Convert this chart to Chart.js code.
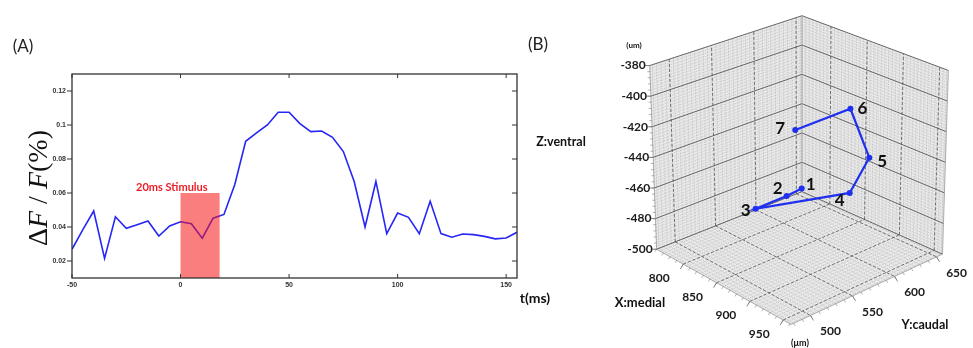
<!DOCTYPE html>
<html>
<head>
<meta charset="utf-8">
<script src="https://cdn.jsdelivr.net/npm/chart.js@4.4.1/dist/chart.umd.min.js"></script>
<style>
  body { margin: 0; background: #fff; }
  #wrap { position: relative; width: 973px; height: 348px; overflow: hidden; }
  canvas { position: absolute; top: 0; }
  .lbl { position: absolute; transform: translate(-50%, -50%); white-space: nowrap; line-height: 1; font-family: Lato, "Open Sans", sans-serif; color: #111; }
</style>
</head>
<body>
<div id="wrap">
  <canvas id="chartA" width="560" height="348" style="left:0"></canvas>
  <canvas id="chartB" width="453" height="348" style="left:520px"></canvas>

  <div class="lbl" style="left:23px;top:45px;font-size:17px;color:#222">(A)</div>
  <div class="lbl" style="left:538px;top:43px;font-size:17px;color:#222">(B)</div>
  <div class="lbl" style="left:38px;top:188px;transform:translate(-50%,-50%) rotate(-90deg);font-family:'Liberation Serif',serif;font-size:28px;color:#111">&Delta;<i>F</i> / <i>F</i>(%)</div>
  <div class="lbl" style="left:535px;top:298px;font-size:14px;font-weight:bold">t(ms)</div>
  <div class="lbl" style="left:561px;top:142px;font-size:12.5px;font-weight:bold">Z:ventral</div>
  <div class="lbl" style="left:640px;top:302px;font-size:13px;font-weight:bold">X:medial</div>
  <div class="lbl" style="left:925px;top:325px;font-size:12.5px;font-weight:bold">Y:caudal</div>
  <div class="lbl" style="left:634px;top:45px;font-size:8px;font-weight:bold">(um)</div>
  <div class="lbl" style="left:800px;top:342px;font-size:9px;font-weight:bold">(&mu;m)</div>
</div>
<script>
// ---------- panel A : calcium trace ----------
var times = [-50, -45, -40, -35, -30, -25, -20, -15, -10, -5, 0, 5, 10, 15, 20, 25, 30, 35, 40, 45,
             50, 55, 60, 65, 70, 75, 80, 85, 90, 95, 100, 105, 110, 115, 120, 125, 130, 135, 140, 145, 150, 155];
var dff = [0.0269, 0.0385, 0.0494, 0.0215, 0.0460, 0.0392, 0.0413, 0.0435, 0.0347, 0.0406,
           0.0431, 0.0419, 0.0334, 0.0452, 0.0474, 0.0650, 0.0904, 0.0953, 0.1000, 0.1075,
           0.1075, 0.1008, 0.0961, 0.0965, 0.0928, 0.0844, 0.0668, 0.0400, 0.0668, 0.0361,
           0.0482, 0.0457, 0.0361, 0.0551, 0.0361, 0.0340, 0.0359, 0.0355, 0.0345, 0.0330,
           0.0335, 0.0369];
var xTicksA = [-50, 0, 50, 100, 150];
var yTicksA = [0.02, 0.04, 0.06, 0.08, 0.1, 0.12];
var stimStart = 0, stimEnd = 18, stimTop = 0.06;
var stimText = '20ms Stimulus';

var tickFont = { family: 'Liberation Sans', size: 7, weight: 'bold' };

var panelAPlugin = {
    id: 'panelA',
    afterDatasetsDraw: function (chart) {
        var ctx = chart.ctx, x = chart.scales.x, y = chart.scales.y;
        // stimulus window, drawn over the trace
        ctx.save();
        ctx.fillStyle = 'rgba(245, 20, 20, 0.55)';
        var l = x.getPixelForValue(stimStart), r = x.getPixelForValue(stimEnd);
        var t = y.getPixelForValue(stimTop), b = y.getPixelForValue(y.min);
        ctx.fillRect(l, t, r - l, b - t);
        ctx.fillStyle = '#ee1c25';
        ctx.font = 'bold 11px Lato, sans-serif';
        ctx.textAlign = 'center';
        ctx.textBaseline = 'middle';
        ctx.fillText(stimText, x.getPixelForValue(-4), y.getPixelForValue(0.0635));
        ctx.restore();
    },
    afterDraw: function (chart) {
        var ctx = chart.ctx, a = chart.chartArea, x = chart.scales.x, y = chart.scales.y;
        ctx.save();
        ctx.strokeStyle = '#333';
        ctx.lineWidth = 1.3;
        ctx.strokeRect(a.left, a.top, a.right - a.left, a.bottom - a.top);
        ctx.lineWidth = 1;
        ctx.beginPath();
        xTicksA.forEach(function (v) {
            var px = x.getPixelForValue(v);
            ctx.moveTo(px, a.bottom); ctx.lineTo(px, a.bottom - 4);
            ctx.moveTo(px, a.top); ctx.lineTo(px, a.top + 4);
        });
        yTicksA.forEach(function (v) {
            var py = y.getPixelForValue(v);
            ctx.moveTo(a.left, py); ctx.lineTo(a.left - 5, py);
            ctx.moveTo(a.right, py); ctx.lineTo(a.right - 5, py);
        });
        ctx.stroke();
        ctx.restore();
    }
};

new Chart(document.getElementById('chartA'), {
    type: 'line',
    data: {
        datasets: [{
            data: times.map(function (t, i) { return { x: t, y: dff[i] }; }),
            borderColor: '#2626f5',
            borderWidth: 1.6,
            pointRadius: 0,
            tension: 0,
            fill: false
        }]
    },
    options: {
        responsive: false,
        animation: false,
        layout: { padding: { top: 74, right: 43, left: 0, bottom: 0 } },
        plugins: { legend: { display: false }, tooltip: { enabled: false } },
        scales: {
            x: {
                type: 'linear', min: -50, max: 155,
                afterBuildTicks: function (s) { s.ticks = xTicksA.map(function (v) { return { value: v }; }); },
                afterFit: function (s) { s.height = 70; },
                grid: { display: false, drawTicks: false },
                border: { display: false },
                ticks: { font: tickFont, color: '#333', padding: 3, maxRotation: 0, autoSkip: false }
            },
            y: {
                min: 0.01, max: 0.13,
                afterBuildTicks: function (s) { s.ticks = yTicksA.map(function (v) { return { value: v }; }); },
                afterFit: function (s) { s.width = 72; },
                grid: { display: false, drawTicks: false },
                border: { display: false },
                ticks: {
                    font: tickFont, color: '#333', padding: 6, autoSkip: false,
                    callback: function (v) { return String(+v.toFixed(2)); }
                }
            }
        }
    },
    plugins: [panelAPlugin]
});

// ---------- panel B : 3D trajectory ----------
var pointLabels = ['1', '2', '3', '4', '5', '6', '7'];
var posX = [870, 875, 890, 860, 880, 855, 850];      // X:medial (um)
var posY = [564, 542, 493, 630, 636, 634, 573];      // Y:caudal (um)
var posZ = [-454, -453, -447, -474, -448, -420, -422]; // Z:ventral (um)
var xTicks3 = [800, 850, 900, 950];
var yTicks3 = [500, 550, 600, 650];
var zTicks3 = [-380, -400, -420, -440, -460, -480, -500];

// axis box limits and where its 8 corners land on the page
var xLim = [760, 962], yLim = [477, 657], zLim = [-500, -380];
var floorC = { c00: [655, 251], c10: [792, 328], c01: [803, 192], c11: [946, 256] };
var topC = { c00: [648, 63], c10: [792, 132], c01: [803, 12], c11: [952, 68] };
var labelOffsets = [[9, -4], [-9, -8], [-10, 2], [-10, 8], [13, 4], [12, 0], [-15, -2]];

function project(X, Y, Z) {
    var u = (X - xLim[0]) / (xLim[1] - xLim[0]);
    var v = (Y - yLim[0]) / (yLim[1] - yLim[0]);
    var w = (Z - zLim[0]) / (zLim[1] - zLim[0]);
    function bil(c, k) {
        return c.c00[k] * (1 - u) * (1 - v) + c.c10[k] * u * (1 - v) + c.c01[k] * (1 - u) * v + c.c11[k] * u * v;
    }
    return [bil(floorC, 0) * (1 - w) + bil(topC, 0) * w, bil(floorC, 1) * (1 - w) + bil(topC, 1) * w];
}

function steps(a, b, st) {
    var out = [];
    for (var v = Math.ceil(a / st) * st; v <= b + 1e-9; v += st) out.push(v);
    return out;
}

var panelBPlugin = {
    id: 'panelB',
    beforeDatasetsDraw: function (chart) {
        var ctx = chart.ctx, sx = chart.scales.x, sy = chart.scales.y;
        var x0 = xLim[0], x1 = xLim[1], y0 = yLim[0], y1 = yLim[1], z0 = zLim[0], z1 = zLim[1];
        function pix(X, Y, Z) { var p = project(X, Y, Z); return [sx.getPixelForValue(p[0]), sy.getPixelForValue(p[1])]; }
        function seg(a, b) { ctx.moveTo(a[0], a[1]); ctx.lineTo(b[0], b[1]); }
        function poly(pts) {
            ctx.beginPath();
            pts.forEach(function (p, i) { if (i) ctx.lineTo(p[0], p[1]); else ctx.moveTo(p[0], p[1]); });
            ctx.closePath(); ctx.fill();
        }
        ctx.save();
        // panes
        ctx.fillStyle = '#e9e9e9';
        poly([pix(x0, y0, z0), pix(x0, y0, z1), pix(x0, y1, z1), pix(x0, y1, z0)]);
        poly([pix(x0, y1, z0), pix(x0, y1, z1), pix(x1, y1, z1), pix(x1, y1, z0)]);
        poly([pix(x0, y0, z0), pix(x1, y0, z0), pix(x1, y1, z0), pix(x0, y1, z0)]);

        // minor grid
        ctx.strokeStyle = 'rgba(130,130,130,0.55)';
        ctx.lineWidth = 0.6;
        ctx.setLineDash([1, 1]);
        ctx.beginPath();
        steps(y0, y1, 5).forEach(function (Y) { seg(pix(x0, Y, z0), pix(x0, Y, z1)); seg(pix(x0, Y, z0), pix(x1, Y, z0)); });
        steps(x0, x1, 5).forEach(function (X) { seg(pix(X, y1, z0), pix(X, y1, z1)); seg(pix(X, y0, z0), pix(X, y1, z0)); });
        steps(z0, z1, 2).forEach(function (Z) { seg(pix(x0, y0, Z), pix(x0, y1, Z)); seg(pix(x0, y1, Z), pix(x1, y1, Z)); });
        ctx.stroke();

        // major grid: dashed for X / Y, solid for Z
        ctx.strokeStyle = '#555';
        ctx.lineWidth = 0.8;
        ctx.setLineDash([3, 2]);
        ctx.beginPath();
        yTicks3.forEach(function (Y) { seg(pix(x0, Y, z0), pix(x0, Y, z1)); seg(pix(x0, Y, z0), pix(x1, Y, z0)); });
        xTicks3.forEach(function (X) { seg(pix(X, y1, z0), pix(X, y1, z1)); seg(pix(X, y0, z0), pix(X, y1, z0)); });
        ctx.stroke();
        ctx.setLineDash([]);
        ctx.strokeStyle = '#4a4a4a';
        ctx.beginPath();
        zTicks3.forEach(function (Z) { seg(pix(x0, y0, Z), pix(x0, y1, Z)); seg(pix(x0, y1, Z), pix(x1, y1, Z)); });
        ctx.stroke();

        // box edges
        ctx.strokeStyle = '#999';
        ctx.lineWidth = 0.8;
        ctx.beginPath();
        seg(pix(x0, y0, z0), pix(x0, y0, z1));
        seg(pix(x1, y1, z0), pix(x1, y1, z1));
        seg(pix(x0, y1, z0), pix(x0, y1, z1));
        seg(pix(x0, y0, z0), pix(x1, y0, z0));
        seg(pix(x1, y0, z0), pix(x1, y1, z0));
        ctx.stroke();

        // axis ticks
        ctx.strokeStyle = '#666';
        ctx.beginPath();
        zTicks3.forEach(function (Z) { var p = pix(x0, y0, Z); ctx.moveTo(p[0], p[1]); ctx.lineTo(p[0] - 5, p[1]); });
        xTicks3.forEach(function (X) { var p = pix(X, y0, z0); ctx.moveTo(p[0], p[1]); ctx.lineTo(p[0] - 3, p[1] + 5); });
        yTicks3.forEach(function (Y) { var p = pix(x1, Y, z0); ctx.moveTo(p[0], p[1]); ctx.lineTo(p[0] + 3, p[1] + 5); });
        ctx.stroke();
        ctx.lineWidth = 0.5;
        ctx.beginPath();
        steps(x0, x1, 10).forEach(function (X) { var p = pix(X, y0, z0); ctx.moveTo(p[0], p[1]); ctx.lineTo(p[0] - 1.5, p[1] + 2.5); });
        steps(y0, y1, 10).forEach(function (Y) { var p = pix(x1, Y, z0); ctx.moveTo(p[0], p[1]); ctx.lineTo(p[0] + 1.5, p[1] + 2.5); });
        steps(z0, z1, 4).forEach(function (Z) { var p = pix(x0, y0, Z); ctx.moveTo(p[0], p[1]); ctx.lineTo(p[0] - 2.5, p[1]); });
        ctx.stroke();

        // tick labels
        ctx.fillStyle = '#1a1a1a';
        ctx.font = 'bold 12px Lato, sans-serif';
        ctx.textBaseline = 'middle';
        ctx.textAlign = 'right';
        zTicks3.forEach(function (Z) { var p = pix(x0, y0, Z); ctx.fillText(String(Z), p[0] - 4, p[1]); });
        ctx.textAlign = 'center';
        xTicks3.forEach(function (X) { var p = pix(X, y0, z0); ctx.fillText(String(X), p[0] - 24, p[1] + 14); });
        yTicks3.forEach(function (Y) { var p = pix(x1, Y, z0); ctx.fillText(String(Y), p[0] + 20, p[1] + 16); });
        ctx.restore();
    },
    afterDatasetsDraw: function (chart) {
        var ctx = chart.ctx, meta = chart.getDatasetMeta(0);
        ctx.save();
        ctx.fillStyle = '#111';
        ctx.font = 'bold 17px Lato, sans-serif';
        ctx.textAlign = 'center';
        ctx.textBaseline = 'middle';
        meta.data.forEach(function (el, i) {
            ctx.fillText(pointLabels[i], el.x + labelOffsets[i][0], el.y + labelOffsets[i][1]);
        });
        ctx.restore();
    }
};

new Chart(document.getElementById('chartB'), {
    type: 'scatter',
    data: {
        datasets: [{
            data: posX.map(function (X, i) { var p = project(X, posY[i], posZ[i]); return { x: p[0], y: p[1] }; }),
            showLine: true,
            borderColor: '#1f2ff0',
            backgroundColor: '#1f2ff0',
            borderWidth: 2.2,
            pointRadius: 3,
            pointBorderWidth: 0
        }]
    },
    options: {
        responsive: false,
        animation: false,
        layout: { padding: 0 },
        plugins: { legend: { display: false }, tooltip: { enabled: false } },
        scales: {
            x: { type: 'linear', min: 520, max: 973, display: false },
            y: { type: 'linear', min: 0, max: 348, reverse: true, display: false }
        }
    },
    plugins: [panelBPlugin]
});
</script>
</body>
</html>
